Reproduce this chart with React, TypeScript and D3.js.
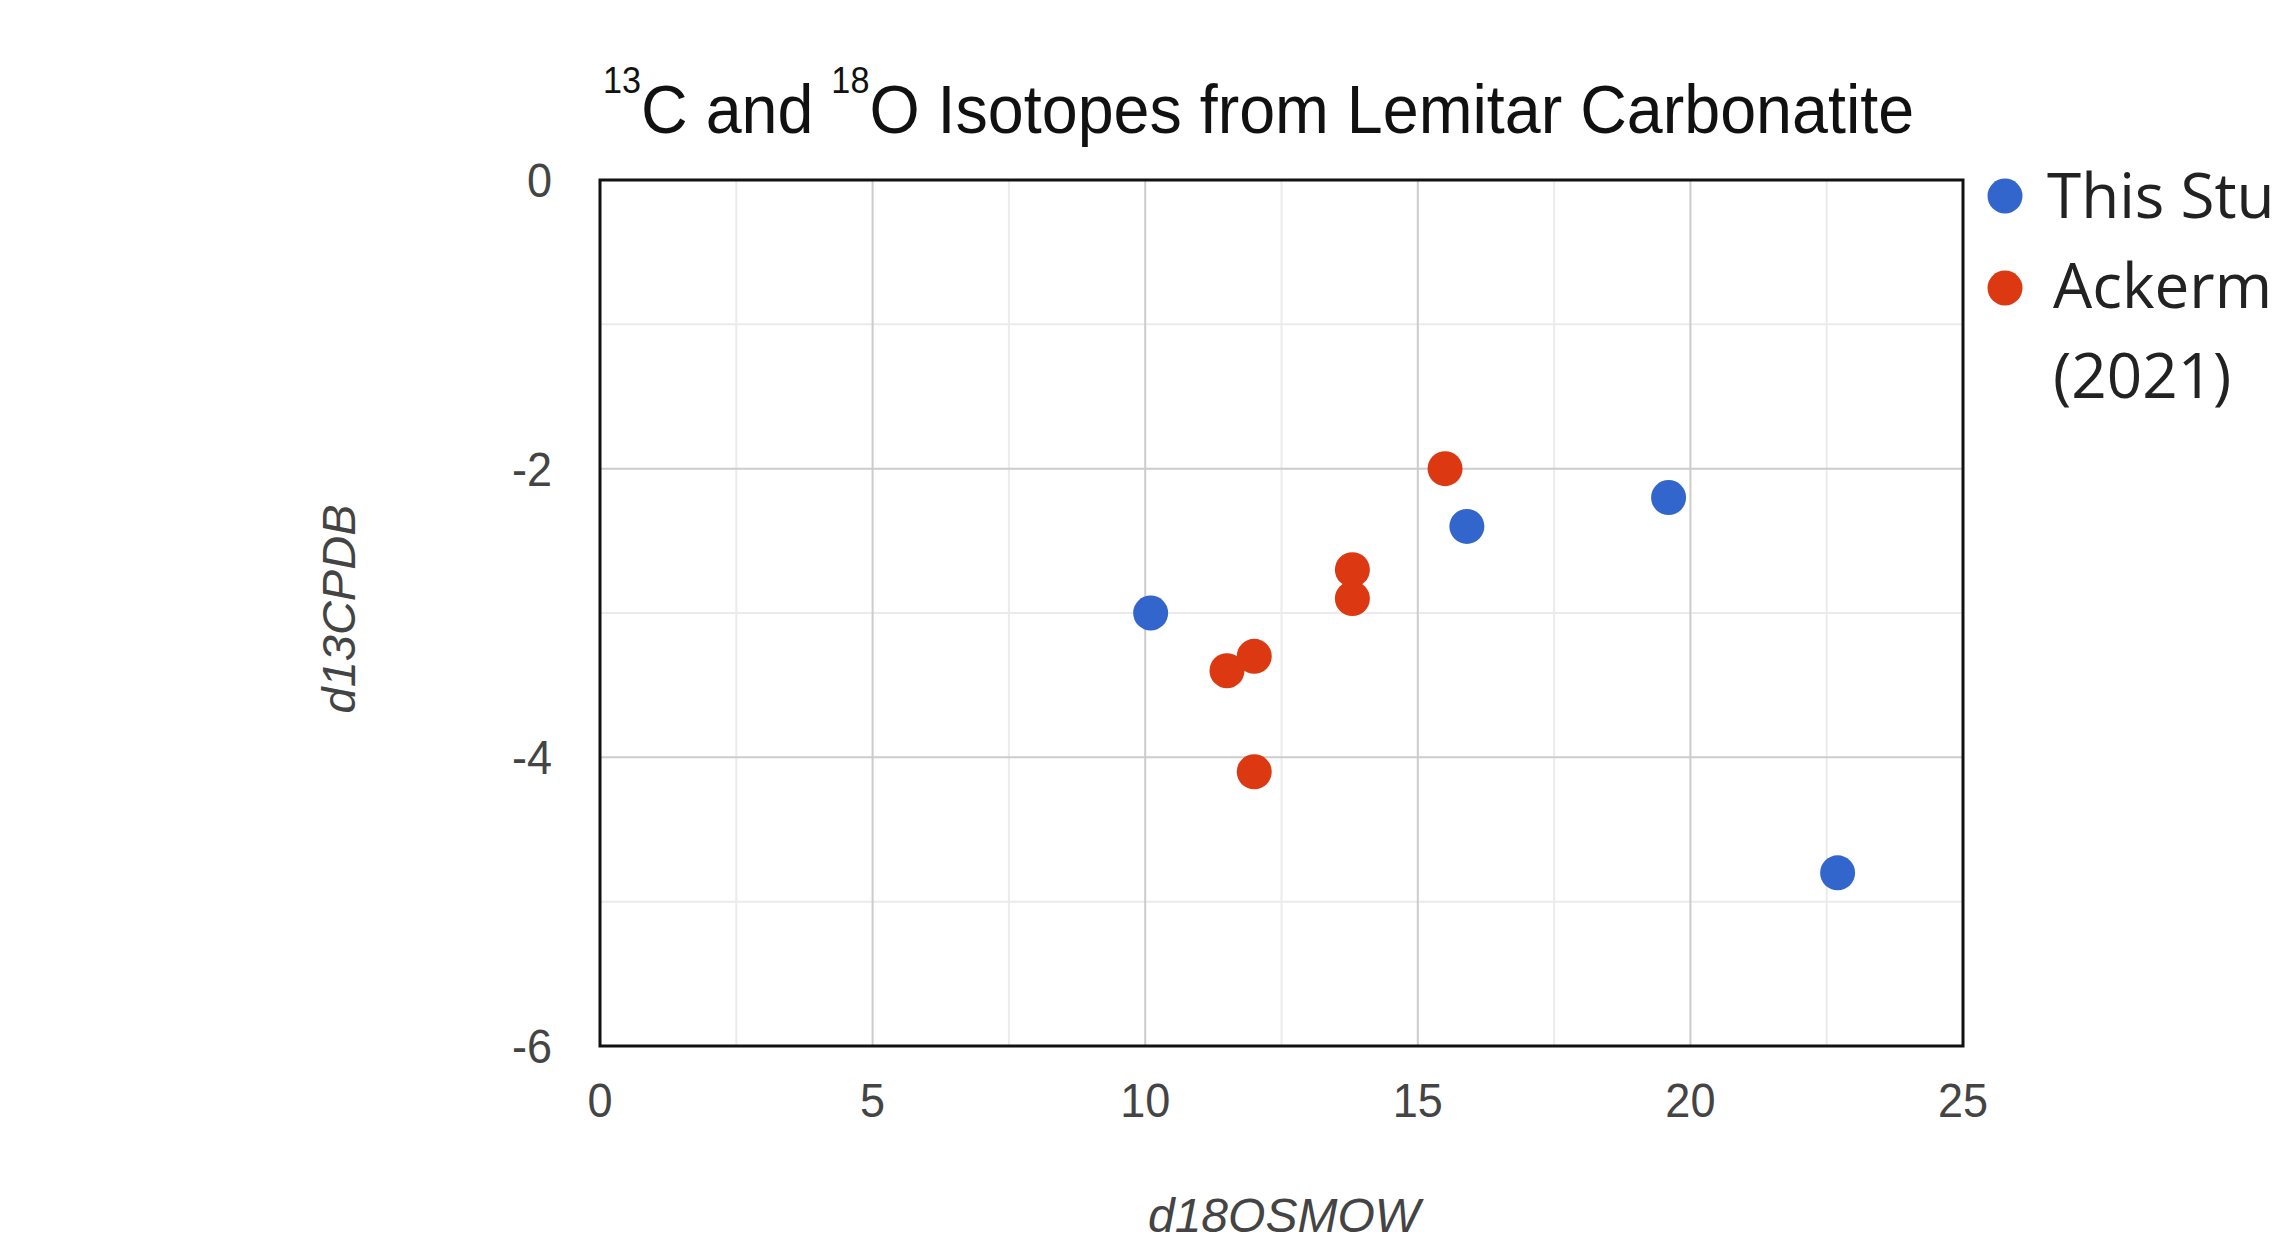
import React, {useEffect, useRef} from 'react';
import * as d3 from 'd3';

// data
const thisStudyX = [10.1, 15.9, 19.6, 22.7];
const thisStudyY = [-3.0, -2.4, -2.2, -4.8];
const ackermanX = [15.5, 13.8, 13.8, 12.0, 11.5, 12.0];
const ackermanY = [-2.0, -2.7, -2.9, -3.3, -3.4, -4.1];
const xTicks = [0, 5, 10, 15, 20, 25];
const yTicks = [0, -2, -4, -6];
const seriesNames = ['This Study', 'Ackerman et al.', '(2021)'];
const colors = ['#3366cc', '#dc3912'];

const App = () => {
    const chart = useRef<SVGSVGElement>(null);

    useEffect(() => {
        const width = 2272;
        const height = 1235;
        const margin = {top: 180, left: 600, bottom: 189, right: 309};
        const iwidth = width - margin.left - margin.right;
        const iheight = height - margin.top - margin.bottom;
        const font = 'Liberation Sans, Arial, sans-serif';

        const svg = d3.select(chart.current);
        svg.selectAll('*').remove();
        svg.attr('width', width).attr('height', height);

        svg.append('rect').attr('width', width).attr('height', height).attr('fill', '#fff');

        const x = d3.scaleLinear().domain([0, 25]).range([0, iwidth]);
        const y = d3.scaleLinear().domain([-6, 0]).range([iheight, 0]);

        const g = svg.append('g').attr('transform', `translate(${margin.left},${margin.top})`);

        // minor grid
        g.selectAll('.vminor')
            .data(d3.range(2.5, 25, 5))
            .enter().append('line')
            .attr('x1', d => x(d)).attr('x2', d => x(d))
            .attr('y1', 0).attr('y2', iheight)
            .attr('stroke', '#ebebeb').attr('stroke-width', 2);
        g.selectAll('.hminor')
            .data([-1, -3, -5])
            .enter().append('line')
            .attr('y1', d => y(d)).attr('y2', d => y(d))
            .attr('x1', 0).attr('x2', iwidth)
            .attr('stroke', '#ebebeb').attr('stroke-width', 2);

        // major grid
        g.selectAll('.vmajor')
            .data(xTicks.slice(1, -1))
            .enter().append('line')
            .attr('x1', d => x(d)).attr('x2', d => x(d))
            .attr('y1', 0).attr('y2', iheight)
            .attr('stroke', '#cccccc').attr('stroke-width', 2);
        g.selectAll('.hmajor')
            .data(yTicks.slice(1, -1))
            .enter().append('line')
            .attr('y1', d => y(d)).attr('y2', d => y(d))
            .attr('x1', 0).attr('x2', iwidth)
            .attr('stroke', '#cccccc').attr('stroke-width', 2);

        g.append('rect')
            .attr('width', iwidth).attr('height', iheight)
            .attr('fill', 'none').attr('stroke', '#111').attr('stroke-width', 3);

        // tick labels (slightly condensed like the reference)
        g.selectAll('.xlab')
            .data(xTicks)
            .enter().append('text')
            .attr('transform', d => `translate(${x(d)},${iheight + 71}) scale(0.92,1)`)
            .attr('text-anchor', 'middle')
            .attr('font-family', font)
            .attr('font-size', 49).attr('fill', '#444')
            .text(d => d);
        g.selectAll('.ylab')
            .data(yTicks)
            .enter().append('text')
            .attr('transform', d => `translate(-48,${y(d) + 17}) scale(0.92,1)`)
            .attr('text-anchor', 'end')
            .attr('font-family', font)
            .attr('font-size', 49).attr('fill', '#444')
            .text(d => d);

        // points
        const series = [
            thisStudyX.map((v, i) => [v, thisStudyY[i]]),
            ackermanX.map((v, i) => [v, ackermanY[i]]),
        ];
        series.forEach((pts, si) => {
            g.selectAll('.pt' + si)
                .data(pts)
                .enter().append('circle')
                .attr('cx', d => x(d[0])).attr('cy', d => y(d[1]))
                .attr('r', 17.5)
                .attr('fill', colors[si]);
        });

        // title
        const title = svg.append('text')
            .attr('transform', 'translate(603,133) scale(0.95,1)')
            .attr('font-family', font)
            .attr('font-size', 68).attr('fill', '#111');
        title.append('tspan').attr('font-size', 36).attr('dy', -40).text('13');
        title.append('tspan').attr('dy', 40).text('C and ');
        title.append('tspan').attr('font-size', 36).attr('dy', -40).text('18');
        title.append('tspan').attr('dy', 40).text('O Isotopes from Lemitar Carbonatite');

        // axis titles
        svg.append('text')
            .attr('transform', `translate(355,609) rotate(-90)`)
            .attr('text-anchor', 'middle')
            .attr('font-family', font)
            .attr('font-style', 'italic')
            .attr('font-size', 47).attr('fill', '#444')
            .text('d13CPDB');
        svg.append('text')
            .attr('x', 1284).attr('y', 1232)
            .attr('text-anchor', 'middle')
            .attr('font-family', font)
            .attr('font-style', 'italic')
            .attr('font-size', 48).attr('fill', '#444')
            .text('d18OSMOW');

        // legend
        const lg = svg.append('g');
        lg.selectAll('circle')
            .data(colors)
            .enter().append('circle')
            .attr('cx', 2005).attr('cy', (d, i) => 196 + i * 92)
            .attr('r', 17.5).attr('fill', d => d);
        lg.selectAll('text')
            .data(seriesNames)
            .enter().append('text')
            .attr('x', (d, i) => (i === 0 ? 2047 : 2053)).attr('y', (d, i) => 218 + i * 90)
            .attr('font-family', 'Open Sans, Noto Sans, sans-serif')
            .attr('font-size', 62).attr('fill', '#222')
            .text(d => d);
    }, []);

    return (
        <div style={{position: 'absolute', left: 0, top: 0}}>
            <svg ref={chart} style={{display: 'block'}}/>
        </div>
    );
};

export default App;
